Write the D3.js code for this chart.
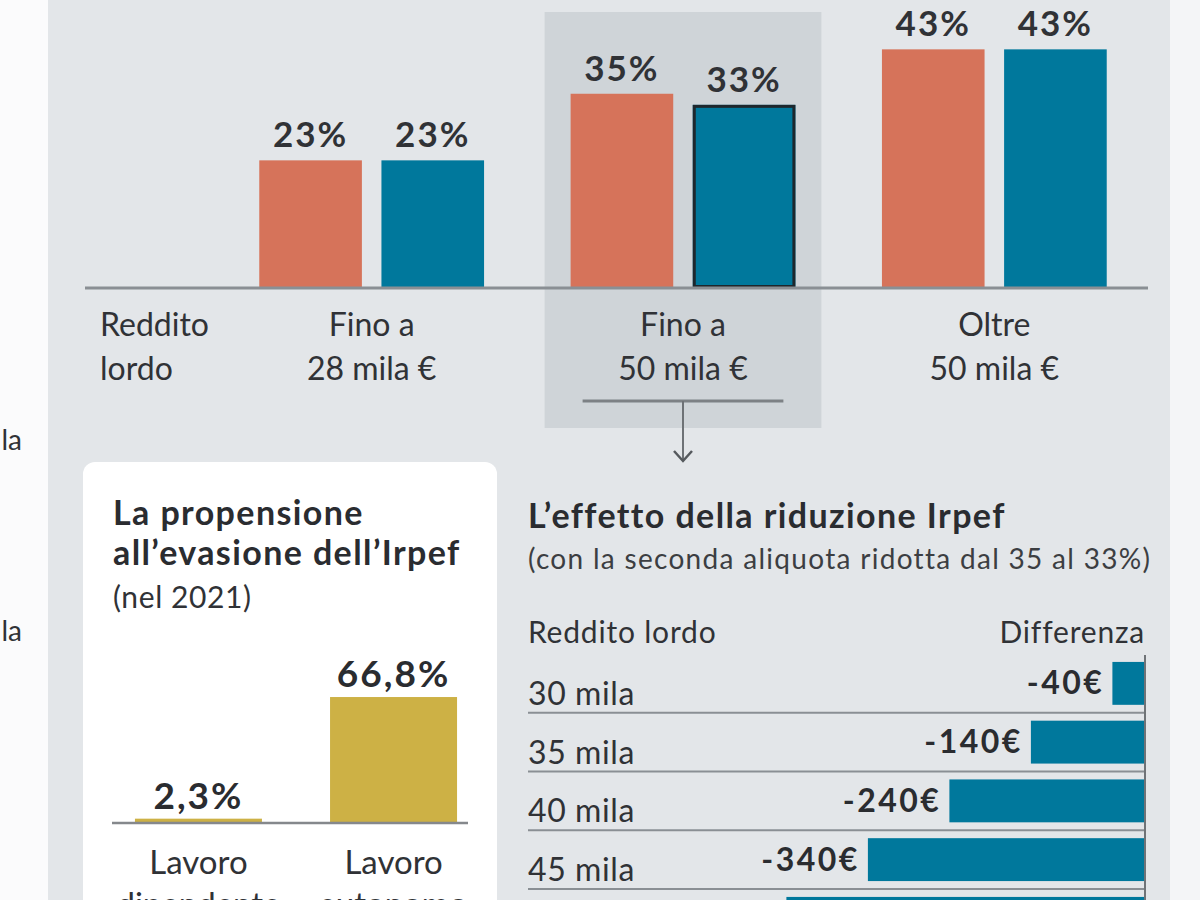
<!DOCTYPE html>
<html>
<head>
<meta charset="utf-8">
<script src="https://cdn.jsdelivr.net/npm/d3@7"></script>
<style>
  body { margin: 0; background: #fbfbfc; }
  svg { display: block; font-family: Lato, "Open Sans", sans-serif; }
</style>
</head>
<body>
<div id="chart"></div>
<script>
// Top chart: aliquote Irpef prima e dopo
const bracketLines = [["Fino a", "28 mila €"], ["Fino a", "50 mila €"], ["Oltre", "50 mila €"]];
const bracketKeys = ["b1", "b2", "b3"];
const seriesKeys = ["prima", "dopo"];
const ratePrima = [23, 35, 43];
const rateDopo = [23, 33, 43];

// Lower left: propensione all'evasione
const workTypes = [["Lavoro", "dipendente"], ["Lavoro", "autonomo"]];
const workKeys = ["dip", "aut"];
const evasion = [2.3, 66.8];
const evasionLabels = ["2,3%", "66,8%"];

// Lower right: effetto della riduzione
const incomes = ["30 mila", "35 mila", "40 mila", "45 mila", "50 mila"];
const savings = [-40, -140, -240, -340, -440];

const width = 1200, height = 900;
const orange = "#d6735a", blue = "#00789c", gold = "#cdb145";
const textColor = "#303236";

const svg = d3.select("#chart").append("svg")
    .attr("width", width)
    .attr("height", height);

// backgrounds
svg.append("rect").attr("x", 0).attr("y", 0).attr("width", width).attr("height", height).attr("fill", "#fbfbfc");
svg.append("rect").attr("x", 48).attr("y", 0).attr("width", 1122).attr("height", height).attr("fill", "#e3e6e9");
svg.append("rect").attr("x", 1170).attr("y", 0).attr("width", 30).attr("height", height).attr("fill", "#f4f5f7");

// cut-off text from the neighbouring column
[450, 641].forEach(y => {
    svg.append("text").attr("x", 22).attr("y", y)
        .attr("text-anchor", "end")
        .style("font-size", "28px").attr("fill", textColor)
        .text("la");
});

// ---------- top grouped bars ----------
const baseY = 288;
const x0 = d3.scaleBand().domain(bracketKeys).range([216, 1150]).paddingInner(0.278).paddingOuter(0.139);
const x1 = d3.scaleBand().domain(seriesKeys).range([0, x0.bandwidth()]).paddingInner(0.16);
const yTop = d3.scaleLinear().domain([0, 50]).range([baseY, baseY - 277.5]);

// highlighted bracket
const hx = x0("b2");
svg.append("rect")
    .attr("x", hx - 26).attr("y", 12)
    .attr("width", x0.bandwidth() + 52).attr("height", 416)
    .attr("fill", "#cfd4d8");

const topData = bracketKeys.map((k, i) => ({ key: k, prima: ratePrima[i], dopo: rateDopo[i] }));

const groups = svg.selectAll(".group")
    .data(topData)
    .enter().append("g")
    .attr("class", "group")
    .attr("transform", d => `translate(${x0(d.key)},0)`);

groups.selectAll("rect")
    .data(d => seriesKeys.map(s => ({ key: d.key, s: s, v: d[s] })))
    .enter().append("rect")
    .attr("x", d => x1(d.s))
    .attr("y", d => yTop(d.v))
    .attr("width", x1.bandwidth())
    .attr("height", d => baseY - yTop(d.v))
    .attr("fill", d => d.s === "prima" ? orange : blue);

// outline on the reduced rate
groups.filter(d => d.key === "b2").append("rect")
    .attr("x", x1("dopo") + 1.5)
    .attr("y", d => yTop(d.dopo) + 1.5)
    .attr("width", x1.bandwidth() - 3)
    .attr("height", d => baseY - yTop(d.dopo) - 3)
    .attr("fill", "none")
    .attr("stroke", "#1d272d")
    .attr("stroke-width", 3);

groups.selectAll(".val")
    .data(d => seriesKeys.map(s => ({ s: s, v: d[s] })))
    .enter().append("text")
    .attr("class", "val")
    .attr("x", d => x1(d.s) + x1.bandwidth() / 2)
    .attr("y", d => yTop(d.v) - 13)
    .attr("text-anchor", "middle")
    .style("font-size", "35px").style("font-weight", "bold")
    .style("letter-spacing", "2px")
    .attr("fill", textColor)
    .text(d => d.v + "%");

// axis line
svg.append("line")
    .attr("x1", 85).attr("x2", 1148)
    .attr("y1", baseY).attr("y2", baseY)
    .attr("stroke", "#8a8f94").attr("stroke-width", 3);

// category labels
bracketKeys.forEach((k, i) => {
    const t = svg.append("text")
        .attr("text-anchor", "middle")
        .style("font-size", "32px").attr("fill", textColor);
    t.append("tspan").attr("x", x0(k) + x0.bandwidth() / 2).attr("y", 336).text(bracketLines[i][0]);
    t.append("tspan").attr("x", x0(k) + x0.bandwidth() / 2).attr("y", 380).text(bracketLines[i][1]);
});
const rl = svg.append("text").style("font-size", "32px").attr("fill", textColor);
rl.append("tspan").attr("x", 100).attr("y", 336).text("Reddito");
rl.append("tspan").attr("x", 100).attr("y", 380).text("lordo");

// bracket line and arrow
const cx2 = x0("b2") + x0.bandwidth() / 2;
svg.append("line")
    .attr("x1", x0("b2") + 12).attr("x2", x0("b2") + x0.bandwidth() - 12)
    .attr("y1", 401).attr("y2", 401)
    .attr("stroke", "#7d8185").attr("stroke-width", 3);
svg.append("line")
    .attr("x1", cx2).attr("x2", cx2)
    .attr("y1", 401).attr("y2", 461)
    .attr("stroke", "#6e7276").attr("stroke-width", 2);
svg.append("path")
    .attr("d", `M${cx2 - 9},${451} L${cx2},${461} L${cx2 + 9},${451}`)
    .attr("fill", "none")
    .attr("stroke", "#55595d").attr("stroke-width", 2.5);

// ---------- lower left: evasione ----------
svg.append("rect")
    .attr("x", 83).attr("y", 462)
    .attr("width", 414).attr("height", 470)
    .attr("rx", 12)
    .attr("fill", "#ffffff");

const tl = svg.append("text").style("font-size", "34px").style("font-weight", "bold")
    .style("letter-spacing", "1.4px").attr("fill", "#2a2c30");
tl.append("tspan").attr("x", 113).attr("y", 525).text("La propensione");
tl.append("tspan").attr("x", 113).attr("y", 565).text("all’evasione dell’Irpef");
svg.append("text").attr("x", 113).attr("y", 608)
    .style("font-size", "30px").style("letter-spacing", "0.6px").attr("fill", textColor)
    .text("(nel 2021)");

const evBase = 823;
const xe = d3.scaleBand().domain(workKeys).range([101, 491]).paddingInner(0.349).paddingOuter(0.174);
const ye = d3.scaleLinear().domain([0, 70]).range([evBase, evBase - 132]);

svg.selectAll(".ev")
    .data(workKeys)
    .enter().append("rect")
    .attr("class", "ev")
    .attr("x", d => xe(d))
    .attr("y", (d, i) => ye(evasion[i]))
    .attr("width", xe.bandwidth())
    .attr("height", (d, i) => evBase - ye(evasion[i]))
    .attr("fill", gold);

svg.append("line")
    .attr("x1", 112).attr("x2", 468)
    .attr("y1", evBase).attr("y2", evBase)
    .attr("stroke", "#85888c").attr("stroke-width", 2.5);

svg.selectAll(".evval")
    .data(workKeys)
    .enter().append("text")
    .attr("class", "evval")
    .attr("x", d => xe(d) + xe.bandwidth() / 2)
    .attr("y", (d, i) => ye(evasion[i]) - 10)
    .attr("text-anchor", "middle")
    .style("font-size", "37px").style("font-weight", "bold")
    .style("letter-spacing", "2px")
    .attr("fill", "#2a2c30")
    .text((d, i) => evasionLabels[i]);

workKeys.forEach((k, i) => {
    const t = svg.append("text").attr("text-anchor", "middle")
        .style("font-size", "33px").attr("fill", textColor);
    t.append("tspan").attr("x", xe(k) + xe.bandwidth() / 2).attr("y", 874).text(workTypes[i][0]);
    t.append("tspan").attr("x", xe(k) + xe.bandwidth() / 2).attr("y", 916).text(workTypes[i][1]);
});

// ---------- lower right: effetto della riduzione ----------
svg.append("text").attr("x", 528).attr("y", 528)
    .style("font-size", "34px").style("font-weight", "bold")
    .style("letter-spacing", "1.4px").attr("fill", "#2a2c30")
    .text("L’effetto della riduzione Irpef");
svg.append("text").attr("x", 528).attr("y", 569)
    .style("font-size", "28px").style("letter-spacing", "1.3px").attr("fill", "#3c3e42")
    .text("(con la seconda aliquota ridotta dal 35 al 33%)");
svg.append("text").attr("x", 528).attr("y", 643)
    .style("font-size", "30px").style("letter-spacing", "0.8px").attr("fill", textColor)
    .text("Reddito lordo");
svg.append("text").attr("x", 1145).attr("y", 643)
    .attr("text-anchor", "end")
    .style("font-size", "30px").style("letter-spacing", "0.8px").attr("fill", textColor)
    .text("Differenza");

const axisX = 1145;
const xs = d3.scaleLinear().domain([0, -450]).range([axisX, axisX - 366.75]);
const ys = d3.scaleBand().domain(incomes).range([654, 654 + 5 * 58.75]).paddingInner(0.27).paddingOuter(0.135);

svg.selectAll(".sav")
    .data(incomes)
    .enter().append("rect")
    .attr("class", "sav")
    .attr("x", (d, i) => xs(savings[i]))
    .attr("y", d => ys(d))
    .attr("width", (d, i) => axisX - xs(savings[i]))
    .attr("height", ys.bandwidth())
    .attr("fill", blue);

svg.selectAll(".sep")
    .data(incomes)
    .enter().append("line")
    .attr("class", "sep")
    .attr("x1", 528).attr("x2", axisX)
    .attr("y1", d => ys(d) + ys.step() - ys.step() * 0.135)
    .attr("y2", d => ys(d) + ys.step() - ys.step() * 0.135)
    .attr("stroke", "#8a8f94").attr("stroke-width", 2);

svg.selectAll(".inc")
    .data(incomes)
    .enter().append("text")
    .attr("class", "inc")
    .attr("x", 528)
    .attr("y", d => ys(d) + ys.bandwidth())
    .style("font-size", "32px").style("letter-spacing", "0.6px").attr("fill", textColor)
    .text(d => d);

svg.selectAll(".savval")
    .data(incomes)
    .enter().append("text")
    .attr("class", "savval")
    .attr("x", (d, i) => xs(savings[i]) - 8)
    .attr("y", d => ys(d) + ys.bandwidth() / 2 + 11)
    .attr("text-anchor", "end")
    .style("font-size", "32px").style("font-weight", "bold")
    .style("letter-spacing", "2.5px")
    .attr("fill", "#2a2c30")
    .text((d, i) => savings[i] + "€");

svg.append("line")
    .attr("x1", axisX).attr("x2", axisX)
    .attr("y1", 655).attr("y2", height)
    .attr("stroke", "#6f7377").attr("stroke-width", 2);
</script>
</body>
</html>
